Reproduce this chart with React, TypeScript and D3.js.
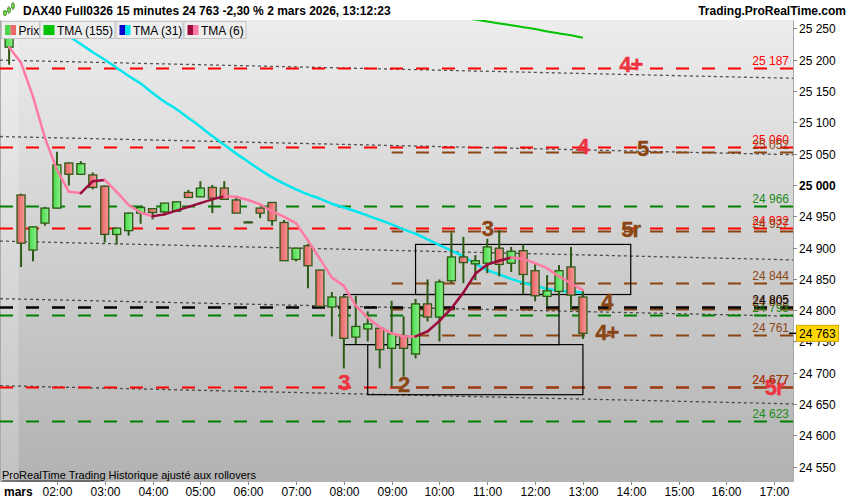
import { useEffect, useRef } from "react"
import * as d3 from "d3"

// 15 minute candles, first one at 01:00
const firstCandle = "01:00"
const open = [25220, 24984, 24896, 24939, 24963, 25035, 25017, 25016, 24998, 24921, 24927, 24955, 24962, 24957, 24958, 24988, 24981, 24996, 24995, 24976, 24941, 24963, 24972, 24940, 24881, 24903, 24864, 24805, 24821, 24757, 24770, 24771, 24739, 24759, 24730, 24810, 24789, 24847, 24885, 24874, 24875, 24899, 24875, 24895, 24863, 24822, 24830, 24869, 24821]
const high = [25255, 24986, 24934, 24965, 25053, 25036, 25038, 25020, 24999, 24931, 24956, 24965, 24962, 24971, 24974, 24992, 25006, 25000, 25006, 24982, 24941, 24963, 24972, 24944, 24899, 24906, 24864, 24829, 24822, 24823, 24798, 24771, 24815, 24790, 24818, 24849, 24849, 24924, 24917, 24888, 24914, 24928, 24901, 24905, 24874, 24856, 24872, 24901, 24831]
const low = [25192, 24869, 24878, 24935, 24962, 24999, 25016, 24993, 24908, 24905, 24919, 24938, 24945, 24954, 24957, 24980, 24981, 24955, 24977, 24955, 24940, 24947, 24935, 24879, 24878, 24835, 24806, 24758, 24707, 24746, 24750, 24707, 24678, 24694, 24723, 24782, 24750, 24843, 24843, 24848, 24859, 24854, 24861, 24826, 24814, 24806, 24823, 24800, 24754]
const close = [25245, 24907, 24933, 24963, 25032, 25017, 25034, 24996, 24921, 24931, 24955, 24964, 24956, 24971, 24973, 24980, 24995, 24979, 24977, 24955, 24940, 24955, 24943, 24879, 24899, 24871, 24806, 24821, 24755, 24774, 24778, 24737, 24762, 24739, 24810, 24789, 24845, 24885, 24876, 24879, 24901, 24873, 24894, 24857, 24823, 24831, 24863, 24824, 24763]

// moving averages, one value per candle starting at the given candle index
const tma6 = [25220, 25195, 25141, 25075, 25024, 24989, 24987, 25006, 25008, 24989, 24968, 24956, 24950, 24953, 24959, 24965, 24971, 24977, 24982, 24981, 24976, 24969, 24958, 24949, 24939, 24911, 24882, 24852, 24839, 24807, 24788, 24773, 24763, 24758, 24758, 24766, 24783, 24803, 24828, 24858, 24873, 24879, 24884, 24882, 24875, 24867, 24854, 24843, 24832]
const tma31Start = 3
const tma31 = [25260, 25248, 25237, 25225, 25212, 25200, 25187, 25174, 25162, 25147, 25133, 25121, 25107, 25093, 25078, 25064, 25050, 25037, 25024, 25012, 25002, 24993, 24985, 24978, 24970, 24964, 24958, 24951, 24944, 24937, 24929, 24922, 24913, 24904, 24895, 24886, 24874, 24864, 24857, 24850, 24844, 24839, 24834, 24831, 24830, 24828]
const tma155Start = 36
const tma155 = [25273, 25270, 25267, 25264, 25261, 25258, 25255, 25252, 25249, 25245, 25242, 25239, 25235]

// horizontal levels
const redLevels = [25187, 25060, 24932, 24677]
const greenLevels = [24966, 24793, 24623]
const brownLevels = [25052, 24927, 24844, 24802, 24761, 24677]
const blackLevels = [24805]
const brownFrom = "09:00"

// sloping dotted lines: price at 01:00 and at 17:00
const trendA = [25199, 25077, 24910, 24818, 24679]
const trendB = [25171, 25049, 24881, 24791, 24651]

// boxes
const boxStart = ["09:30", "08:00", "08:30"]
const boxEnd = ["14:00", "12:30", "13:00"]
const boxTop = [24905, 24825, 24745]
const boxBottom = [24825, 24745, 24665]

// wave labels
const redMarks = ["4+", "4", "3", "5r"]
const redMarkTime = ["14:00", "13:00", "08:00", "17:00"]
const redMarkPrice = [25193, 25062, 24685, 24678]
const brownMarks = ["5", "5r", "3", "2", "4", "4+"]
const brownMarkTime = ["14:15", "14:00", "11:00", "09:15", "13:30", "13:30"]
const brownMarkPrice = [25059, 24929, 24931, 24682, 24814, 24765]

const priceTicks = [24550, 24600, 24650, 24700, 24750, 24800, 24850, 24900, 24950, 25000, 25050, 25100, 25150, 25200, 25250]
const hourTicks = ["02:00", "03:00", "04:00", "05:00", "06:00", "07:00", "08:00", "09:00", "10:00", "11:00", "12:00", "13:00", "14:00", "15:00", "16:00", "17:00"]
const lastPrice = 24763

const FONT = "'Liberation Sans', Arial, sans-serif"
const RED = "#ff0000"
const GREEN = "#008000"
const BROWN = "#8b4513"

const mins = (s: string) => {
  const [h, m] = s.split(":").map(Number)
  return h * 60 + m
}
const fmt = (v: number) => {
  const s = String(Math.round(v))
  return s.slice(0, s.length - 3) + " " + s.slice(-3)
}

export default function App() {
  const svgRef = useRef(null)

  useEffect(() => {
    document.body.style.margin = "0"
    if (!svgRef.current) return
    const svg = d3.select(svgRef.current)
    svg.selectAll("*").remove()

    const width = 850
    const height = 500
    const plotRight = 793
    const plotTop = 20
    const plotBottom = 482

    const x = d3.scaleLinear().domain([60, 1020]).range([9.1, 774.2])
    const y = d3.scaleLinear().domain([24550, 25250]).range([466.7, 28.4])
    const t0 = mins(firstCandle)
    const cx = (i: number) => x(t0 + 15 * i)

    const defs = svg.append("defs")
    const bg = defs.append("linearGradient").attr("id", "bg").attr("x1", 0).attr("y1", 0).attr("x2", 0).attr("y2", 1)
    bg.append("stop").attr("offset", "0%").attr("stop-color", "#ededed")
    bg.append("stop").attr("offset", "100%").attr("stop-color", "#b2b2b2")
    const gUp = defs.append("linearGradient").attr("id", "up")
    gUp.append("stop").attr("offset", "0%").attr("stop-color", "#48d848")
    gUp.append("stop").attr("offset", "100%").attr("stop-color", "#8cf08c")
    const gDn = defs.append("linearGradient").attr("id", "dn")
    gDn.append("stop").attr("offset", "0%").attr("stop-color", "#e66060")
    gDn.append("stop").attr("offset", "100%").attr("stop-color", "#f49a9a")
    defs.append("clipPath").attr("id", "plot")
      .append("rect").attr("x", 0).attr("y", plotTop).attr("width", plotRight).attr("height", plotBottom - plotTop)

    svg.append("rect").attr("width", width).attr("height", height).attr("fill", "#fff")
    svg.append("rect").attr("x", 0).attr("y", plotTop).attr("width", plotRight).attr("height", plotBottom - plotTop).attr("fill", "url(#bg)")
    // previous session shading
    svg.append("rect").attr("x", 0).attr("y", plotTop).attr("width", 18.5).attr("height", plotBottom - plotTop).attr("fill", "#fff").attr("opacity", 0.22)
    svg.append("line").attr("x1", 0.5).attr("x2", 0.5).attr("y1", plotTop).attr("y2", plotBottom).attr("stroke", "#aaa")

    const plot = svg.append("g").attr("clip-path", "url(#plot)")

    // sloping dotted lines
    trendA.forEach((a, k) => {
      const b = trendB[k]
      const slope = (b - a) / (1020 - 60)
      const pAt = (px: number) => a + slope * (x.invert(px) - 60)
      plot.append("line")
        .attr("x1", 0).attr("x2", plotRight)
        .attr("y1", y(pAt(0))).attr("y2", y(pAt(plotRight)))
        .attr("stroke", "#222").attr("stroke-width", 1.3).attr("stroke-dasharray", "3,3").attr("opacity", 0.75)
    })

    const level = (p: number, color: string, x0: number, w = 2) => {
      plot.append("line")
        .attr("x1", x0).attr("x2", plotRight).attr("y1", Math.round(y(p)) + 0.5).attr("y2", Math.round(y(p)) + 0.5)
        .attr("stroke", color).attr("stroke-width", w)
        .attr("stroke-dasharray", "13,13").attr("stroke-dashoffset", x0 % 26)
    }
    greenLevels.forEach((p) => level(p, GREEN, 0))
    redLevels.forEach((p) => level(p, RED, 0))
    brownLevels.forEach((p) => level(p, BROWN, x(mins(brownFrom))))
    blackLevels.forEach((p) => level(p, "#000", 0, 2.5))

    // boxes
    boxStart.forEach((s, k) => {
      plot.append("rect")
        .attr("x", x(mins(s))).attr("y", y(boxTop[k]))
        .attr("width", x(mins(boxEnd[k])) - x(mins(s))).attr("height", y(boxBottom[k]) - y(boxTop[k]))
        .attr("fill", "none").attr("stroke", "#000").attr("stroke-width", 1.2)
    })

    // TMA 155 and 31
    const line = d3.line<[number, number]>().x((d) => d[0]).y((d) => d[1]).curve(d3.curveMonotoneX)
    plot.append("path")
      .attr("d", line(tma155.map((v, k) => [cx(tma155Start + k), y(v)])))
      .attr("fill", "none").attr("stroke", "#00c400").attr("stroke-width", 2)
    plot.append("path")
      .attr("d", line(tma31.map((v, k) => [cx(tma31Start + k), y(v)])))
      .attr("fill", "none").attr("stroke", "#00e6ee").attr("stroke-width", 2.5)

    // candles
    const c = plot.append("g")
    open.forEach((o, i) => {
      const up = close[i] >= o
      const xc = cx(i)
      c.append("line").attr("x1", xc).attr("x2", xc).attr("y1", y(high[i])).attr("y2", y(low[i]))
        .attr("stroke", "#2d5a14").attr("stroke-width", 2)
      const top = y(Math.max(o, close[i]))
      const h = Math.max(1, Math.abs(y(o) - y(close[i])))
      c.append("rect").attr("x", xc - 4).attr("y", top).attr("width", 8).attr("height", h)
        .attr("fill", up ? "url(#up)" : "url(#dn)").attr("stroke", "#2d5a14").attr("stroke-width", 1.3)
    })

    // TMA 6, dark red when rising, pink when falling
    tma6.forEach((v, i) => {
      if (i === 0) return
      const rising = v > tma6[i - 1]
      plot.append("line")
        .attr("x1", cx(i - 1)).attr("x2", cx(i)).attr("y1", y(tma6[i - 1])).attr("y2", y(v))
        .attr("stroke", rising ? "#9a0a3c" : "#ff7aa2").attr("stroke-width", 2.5).attr("stroke-linecap", "round")
    })

    // wave labels
    const mark = (txt: string, t: string, p: number, color: string) => {
      plot.append("text")
        .attr("x", x(mins(t))).attr("y", y(p) + 8)
        .attr("text-anchor", "middle").attr("font-family", FONT).attr("font-weight", "bold").attr("font-size", 22)
        .attr("fill", color).attr("stroke", color).attr("stroke-width", 0.4).attr("letter-spacing", -1)
        .text(txt)
    }
    redMarks.forEach((m, k) => mark(m, redMarkTime[k], redMarkPrice[k], "#ee3340"))
    brownMarks.forEach((m, k) => mark(m, brownMarkTime[k], brownMarkPrice[k], BROWN))

    // level values at right
    const val = (p: number, color: string) => {
      plot.append("text").attr("x", 789).attr("y", Math.round(y(p)) - 3)
        .attr("text-anchor", "end").attr("font-family", FONT).attr("font-size", 12).attr("fill", color).text(fmt(p))
    }
    greenLevels.forEach((p) => val(p, "#1a8a1a"))
    redLevels.forEach((p) => val(p, RED))
    brownLevels.forEach((p) => val(p, BROWN))
    blackLevels.forEach((p) => val(p, "#000"))

    svg.append("text").attr("x", 2).attr("y", 479).attr("font-family", FONT).attr("font-size", 11).attr("fill", "#000")
      .text("ProRealTime Trading  Historique ajusté aux rollovers")
    svg.append("line").attr("x1", 2).attr("x2", 100).attr("y1", 481).attr("y2", 481).attr("stroke", "#000").attr("stroke-width", 0.8)

    // right price axis
    svg.append("rect").attr("x", plotRight).attr("y", plotTop).attr("width", width - plotRight).attr("height", plotBottom - plotTop).attr("fill", "#fff")
    svg.append("line").attr("x1", plotRight + 0.5).attr("x2", plotRight + 0.5).attr("y1", plotTop).attr("y2", plotBottom).attr("stroke", "#a8a8a8")
    priceTicks.forEach((p) => {
      const yy = Math.round(y(p)) + 0.5
      svg.append("line").attr("x1", plotRight).attr("x2", plotRight + 4).attr("y1", yy).attr("y2", yy).attr("stroke", "#888")
      svg.append("text").attr("x", 799).attr("y", yy + 4.5).attr("font-family", FONT).attr("font-size", 12)
        .attr("font-weight", p === 25000 ? "bold" : "normal").attr("fill", "#000").text(fmt(p))
    })
    const ly = y(lastPrice)
    svg.append("line").attr("x1", plotRight - 4).attr("x2", plotRight + 4).attr("y1", ly).attr("y2", ly).attr("stroke", "#000").attr("stroke-width", 1.5)
    svg.append("rect").attr("x", 796.5).attr("y", ly - 8).attr("width", 42).attr("height", 16)
      .attr("fill", "#ffd700").attr("stroke", "#d9a400")
    svg.append("text").attr("x", 799).attr("y", ly + 4.5).attr("font-family", FONT).attr("font-size", 12).attr("fill", "#000").text(fmt(lastPrice))

    // bottom time axis
    svg.append("rect").attr("x", 0).attr("y", plotBottom).attr("width", width).attr("height", height - plotBottom).attr("fill", "#fff")
    hourTicks.forEach((h) => {
      const xx = Math.round(x(mins(h))) + 0.5
      svg.append("line").attr("x1", xx).attr("x2", xx).attr("y1", plotBottom).attr("y2", plotBottom + 3).attr("stroke", "#888")
      svg.append("text").attr("x", xx).attr("y", 496).attr("text-anchor", "middle").attr("font-family", FONT).attr("font-size", 12).text(h)
    })
    svg.append("text").attr("x", 4).attr("y", 496).attr("font-family", FONT).attr("font-size", 12).attr("font-weight", "bold").text("mars")

    // title bar
    svg.append("rect").attr("x", 0).attr("y", 0).attr("width", width).attr("height", plotTop).attr("fill", "#fff")
    const icon = svg.append("g").attr("stroke", "#3a7a1a")
    ;[[5, 10, 16, 11, 15], [9, 6, 14, 8, 12], [13, 2, 10, 4, 8]].forEach(([ix, t, b, bt, bb]) => {
      icon.append("line").attr("x1", ix).attr("x2", ix).attr("y1", t).attr("y2", b)
      icon.append("rect").attr("x", ix - 1.5).attr("y", bt).attr("width", 3).attr("height", bb - bt).attr("fill", "#6ad84a").attr("stroke-width", 0.6)
    })
    svg.append("text").attr("x", 23).attr("y", 15).attr("font-family", FONT).attr("font-size", 12).attr("font-weight", "bold")
      .text("DAX40 Full0326 15 minutes 24 763 -2,30 % 2 mars 2026, 13:12:23")
    svg.append("text").attr("x", 846).attr("y", 15).attr("text-anchor", "end").attr("font-family", FONT).attr("font-size", 12).attr("font-weight", "bold")
      .text("Trading.ProRealTime.com")

    // legend
    const legend = [
      { label: "Prix", c1: "#4cd44c", c2: "#e86a6a", x0: 1.5, w: 38 },
      { label: "TMA (155)", c1: "#00c400", c2: "#00c400", x0: 40, w: 75 },
      { label: "TMA (31)", c1: "#0000cc", c2: "#00e6ee", x0: 116, w: 67 },
      { label: "TMA (6)", c1: "#9a0a3c", c2: "#ff7aa2", x0: 184, w: 62 },
    ]
    legend.forEach((d) => {
      const g = svg.append("g").attr("transform", `translate(${d.x0},21.5)`)
      g.append("rect").attr("width", d.w).attr("height", 17).attr("fill", "#eeeeee").attr("stroke", "#c4c4c4")
      g.append("rect").attr("x", 3.5).attr("y", 3.5).attr("width", 5.5).attr("height", 10).attr("fill", d.c1)
      g.append("rect").attr("x", 9).attr("y", 3.5).attr("width", 5.5).attr("height", 10).attr("fill", d.c2)
      g.append("text").attr("x", 17).attr("y", 13).attr("font-family", FONT).attr("font-size", 12).attr("fill", "#000").text(d.label)
    })

    svg.attr("width", width).attr("height", height).attr("viewBox", [0, 0, width, height])
  }, [])

  return <svg ref={svgRef} style={{ display: "block" }}></svg>
}
